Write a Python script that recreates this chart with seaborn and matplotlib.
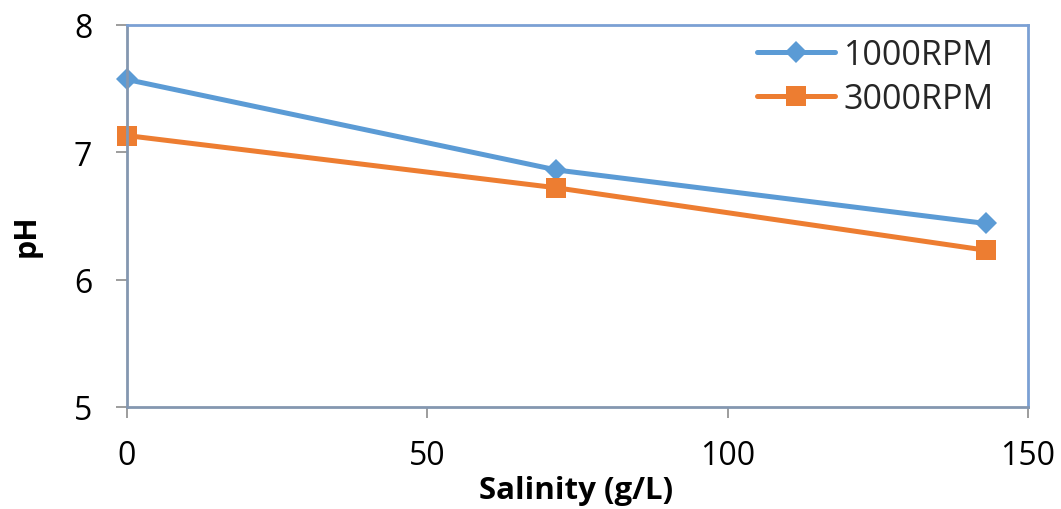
import matplotlib
matplotlib.use("Agg")
import matplotlib.pyplot as plt
import seaborn as sns
import pandas as pd

salinity = [0, 71.5, 143]
ph_1000 = [7.57, 6.86, 6.44]
ph_3000 = [7.13, 6.72, 6.23]
series_names = ["1000RPM", "3000RPM"]
x_ticks = [0, 50, 100, 150]
y_ticks = [5, 6, 7, 8]

df = pd.DataFrame({
    "Salinity": salinity * 2,
    "pH": ph_1000 + ph_3000,
    "Series": [series_names[0]] * 3 + [series_names[1]] * 3,
})

sns.set_theme(style="white")
plt.rcParams['font.family'] = ['Open Sans', 'DejaVu Sans']

fig = plt.figure(figsize=(10.61, 5.10), dpi=100)
ax = fig.add_axes([127 / 1061, 1 - 408 / 510, (1028 - 127) / 1061, (408 - 25.7) / 510])

palette = {series_names[0]: "#5B9BD5", series_names[1]: "#ED7D31"}
markers = {series_names[0]: "D", series_names[1]: "s"}
sns.lineplot(data=df, x="Salinity", y="pH", hue="Series", style="Series",
             palette=palette, markers=markers, dashes=False, linewidth=3.6,
             markersize=15, markeredgewidth=0, ax=ax)
for line in ax.get_lines():
    line.set_clip_on(False)
    if line.get_marker() == "D":
        line.set_markersize(11)

ax.set_xlim(0, 150)
ax.set_ylim(5, 8)
ax.set_xticks(x_ticks)
ax.set_yticks(y_ticks)
ax.tick_params(axis="both", which="major", direction="out", length=8, width=1.2,
               color="#8C8C8C", labelsize=23, labelcolor="black", bottom=True, left=True)
ax.tick_params(axis="x", pad=15)
ax.tick_params(axis="y", pad=17)

for side in ["left", "bottom"]:
    ax.spines[side].set_color("#8497B0")
    ax.spines[side].set_linewidth(2)
for side in ["top", "right"]:
    ax.spines[side].set_color("#7BA0D4")
    ax.spines[side].set_linewidth(2)

ax.set_xlabel("Salinity (g/L)", fontsize=22.5, fontweight="bold", color="black")
ax.set_ylabel("pH", fontsize=22, fontweight="bold", color="black")
ax.xaxis.set_label_coords((576.5 - 127) / 901, -(476 - 408) / 382.3)
ax.yaxis.set_label_coords(-(127 - 42) / 901, (408 - 236) / 382.3)

handles, labels = ax.get_legend_handles_labels()
leg = ax.legend(handles, labels, loc="upper right", bbox_to_anchor=(0.962, 0.965),
                frameon=False, fontsize=24.5, handlelength=2.3, handletextpad=0.25,
                labelspacing=0.3, borderpad=0, borderaxespad=0)

fig.savefig("out.png", dpi=100)
